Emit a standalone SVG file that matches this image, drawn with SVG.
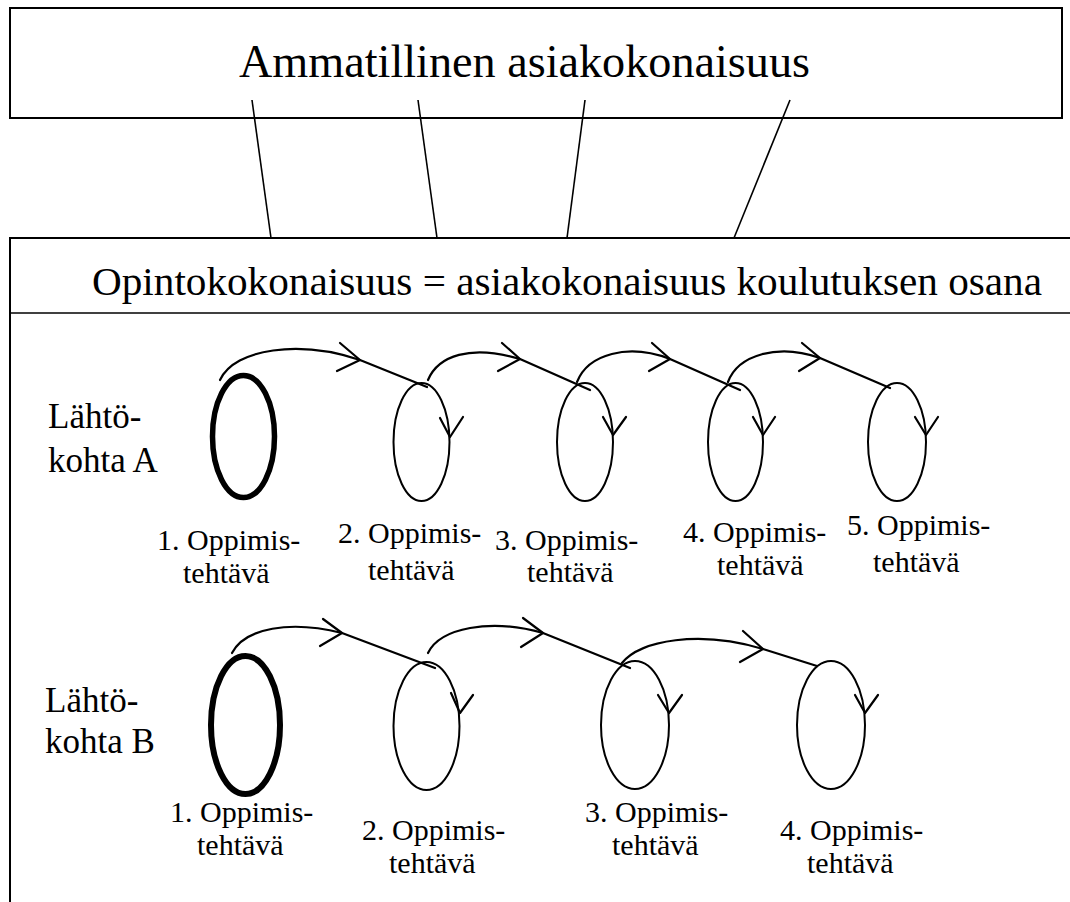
<svg xmlns="http://www.w3.org/2000/svg" width="1070" height="902" viewBox="0 0 1070 902">
<style>
text{font-family:"Liberation Serif","Times New Roman",serif;fill:#000}
.title{font-size:46px}
.sub{font-size:41px}
.side{font-size:35px}
.lab{font-size:30px}
.box{fill:none;stroke:#000;stroke-width:2}
.ln{fill:none;stroke:#000;stroke-width:1.6}
.arc{fill:none;stroke:#000;stroke-width:2.2;stroke-linecap:round;stroke-linejoin:round}
.thin{fill:none;stroke:#000;stroke-width:2}
.thick{fill:none;stroke:#000;stroke-width:5.5}
</style>
<rect width="1070" height="902" fill="#fff"/>
<g id="ammatillinen">
<rect class="box" x="10" y="8" width="1052" height="110"/>
<text class="title" x="239" y="77" textLength="571" lengthAdjust="spacingAndGlyphs">Ammatillinen asiakokonaisuus</text>
</g>
<g id="opintokokonaisuus">
<path class="box" d="M1070,238 H10 V902"/>
<line class="ln" x1="10" y1="313" x2="1070" y2="313"/>
<text class="sub" x="92" y="295" textLength="950" lengthAdjust="spacingAndGlyphs">Opintokokonaisuus = asiakokonaisuus koulutuksen osana</text>
</g>
<g id="connectors">
<line class="ln" x1="252" y1="100" x2="271" y2="238"/>
<line class="ln" x1="418" y1="100" x2="437" y2="238"/>
<line class="ln" x1="585" y1="100" x2="567" y2="238"/>
<line class="ln" x1="790" y1="100" x2="734" y2="238"/>
<!-- row A -->
<path class="arc" d="M220,380 C235,348 300,340 360,360 L427,387"/>
<path class="arc" d="M340,343 L360,360 L337,371"/>
<path class="arc" d="M428,380 C438,356 470,344 520,359 L590,390"/>
<path class="arc" d="M502,343 L520,359 L498,371"/>
<path class="arc" d="M577,382 C588,354 628,343 670,359 L740,390"/>
<path class="arc" d="M652,343 L670,359 L649,371"/>
<path class="arc" d="M728,382 C738,355 778,343 820,358 L890,388"/>
<path class="arc" d="M802,343 L820,358 L799,371"/>
<path class="arc" d="M440,418 L450,437 L463,417"/>
<path class="arc" d="M603,417 L613,435 L626,417"/>
<path class="arc" d="M753,417 L763,435 L775,417"/>
<path class="arc" d="M915,417 L926,435 L938,417"/>
<!-- row B -->
<path class="arc" d="M232,653 C245,628 290,620 342,633 L435,668"/>
<path class="arc" d="M323,619 L342,633 L320,646"/>
<path class="arc" d="M428,653 C440,628 490,618 543,633 L630,668"/>
<path class="arc" d="M523,618 L543,633 L521,647"/>
<path class="arc" d="M622,663 C640,640 700,630 763,649 L817,666"/>
<path class="arc" d="M743,631 L763,649 L740,662"/>
<path class="arc" d="M451,693 L460,713 L473,695"/>
<path class="arc" d="M658,695 L669,713 L682,695"/>
<path class="arc" d="M855,695 L865,713 L878,695"/>
</g>
<g id="lahtokohta-a">
<text class="side" x="48" y="428">Lähtö-</text>
<text class="side" x="48" y="472">kohta A</text>
</g>
<g id="a1">
<ellipse class="thick" cx="243.5" cy="436.5" rx="31" ry="61"/>
<text class="lab" x="157" y="550">1. Oppimis-</text>
<text class="lab" x="183" y="583">tehtävä</text>
</g>
<g id="a2">
<ellipse class="thin" cx="421.5" cy="442" rx="28" ry="59"/>
<text class="lab" x="338" y="543">2. Oppimis-</text>
<text class="lab" x="368" y="580">tehtävä</text>
</g>
<g id="a3">
<ellipse class="thin" cx="585" cy="442" rx="28" ry="59"/>
<text class="lab" x="495" y="550">3. Oppimis-</text>
<text class="lab" x="527" y="582">tehtävä</text>
</g>
<g id="a4">
<ellipse class="thin" cx="735.5" cy="442" rx="27.5" ry="59"/>
<text class="lab" x="683" y="542">4. Oppimis-</text>
<text class="lab" x="717" y="575">tehtävä</text>
</g>
<g id="a5">
<ellipse class="thin" cx="897" cy="442" rx="29" ry="59"/>
<text class="lab" x="847" y="535">5. Oppimis-</text>
<text class="lab" x="873" y="572">tehtävä</text>
</g>
<g id="lahtokohta-b">
<text class="side" x="45" y="712">Lähtö-</text>
<text class="side" x="45" y="753">kohta B</text>
</g>
<g id="b1">
<ellipse class="thick" cx="245.5" cy="725" rx="34.5" ry="69" style="stroke-width:6"/>
<text class="lab" x="170" y="822">1. Oppimis-</text>
<text class="lab" x="197" y="855">tehtävä</text>
</g>
<g id="b2">
<ellipse class="thin" cx="426.5" cy="726" rx="33" ry="64"/>
<text class="lab" x="362" y="840">2. Oppimis-</text>
<text class="lab" x="389" y="873">tehtävä</text>
</g>
<g id="b3">
<ellipse class="thin" cx="635" cy="725" rx="34" ry="64"/>
<text class="lab" x="585" y="822">3. Oppimis-</text>
<text class="lab" x="612" y="855">tehtävä</text>
</g>
<g id="b4">
<ellipse class="thin" cx="831" cy="725" rx="34" ry="64"/>
<text class="lab" x="780" y="840">4. Oppimis-</text>
<text class="lab" x="807" y="873">tehtävä</text>
</g>
</svg>
